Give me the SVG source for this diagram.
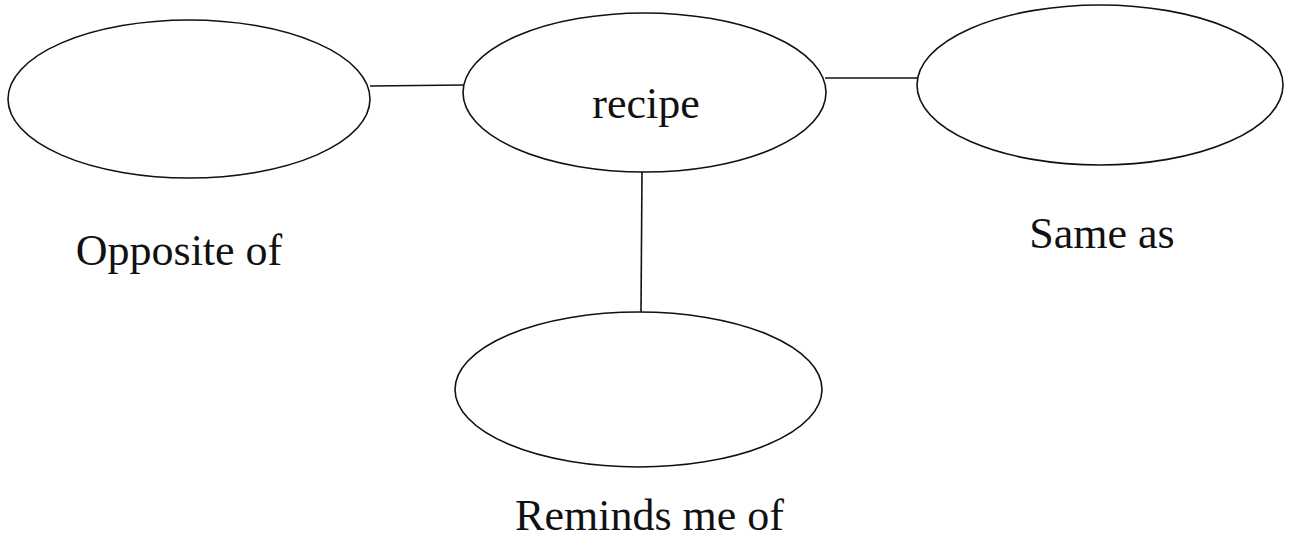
<svg xmlns="http://www.w3.org/2000/svg" width="1290" height="544" viewBox="0 0 1290 544">
<style>
.node ellipse{fill:none;stroke:#111;stroke-width:1.6}
.conn line{stroke:#111;stroke-width:1.6}
.lbl{font-size:44px;fill:#111;text-anchor:middle}
</style>
<rect width="1290" height="544" fill="#fff"/>
<g class="conn" id="connectors">
<line x1="370" y1="86" x2="464" y2="85"/>
<line x1="825" y1="78" x2="918" y2="78"/>
<line x1="642" y1="172" x2="641" y2="312"/>
</g>
<g class="node" id="node-opposite">
<ellipse cx="189" cy="99" rx="181" ry="79"/>
</g>
<g class="node" id="node-recipe">
<ellipse cx="644.5" cy="92.5" rx="181.5" ry="79.5"/>
<text class="lbl" font-family="Liberation Serif, DejaVu Serif, serif" x="646" y="118">recipe</text>
</g>
<g class="node" id="node-same">
<ellipse cx="1100" cy="85" rx="183" ry="80"/>
</g>
<g class="node" id="node-reminds">
<ellipse cx="638.5" cy="389.5" rx="183.5" ry="77.5"/>
</g>
<g id="labels" font-family="Liberation Serif, DejaVu Serif, serif">
<text class="lbl" x="179" y="265">Opposite of</text>
<text class="lbl" x="1102" y="248">Same as</text>
<text class="lbl" x="649.5" y="530">Reminds me of</text>
</g>
</svg>
